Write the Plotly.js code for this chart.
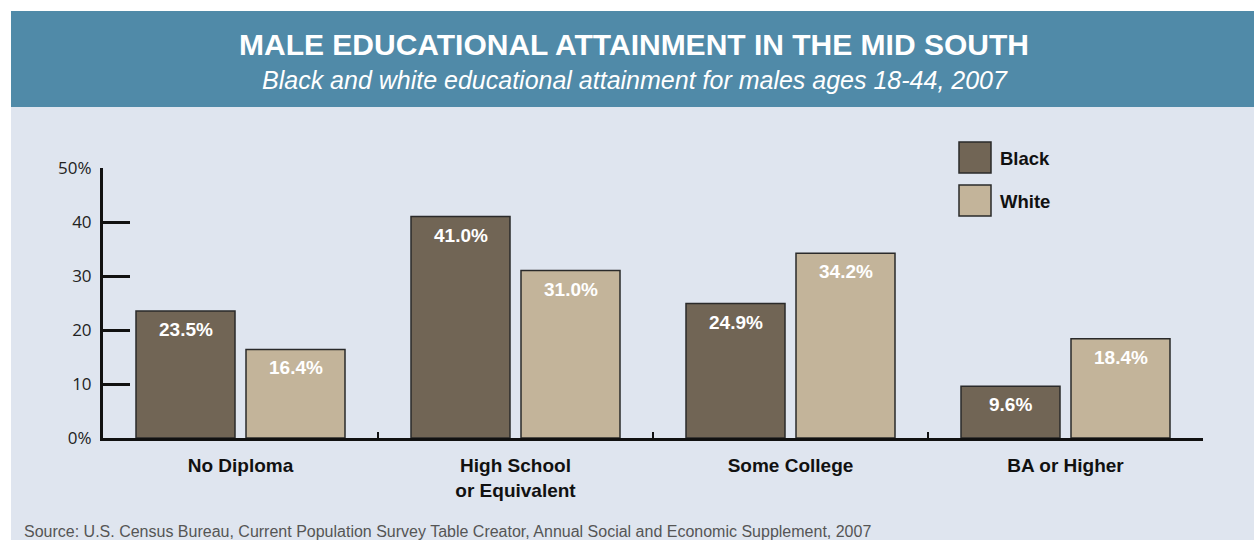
<!DOCTYPE html>
<html>
<head>
<meta charset="utf-8">
<script src="https://cdn.plot.ly/plotly-3.0.1.min.js"></script>
<style>
html,body{margin:0;padding:0;background:#ffffff;}
#chart{width:1254px;height:540px;}
</style>
</head>
<body>
<div id="chart"></div>
<script>
const categories = ["No Diploma", "High School<br>or Equivalent", "Some College", "BA or Higher"];
const blackValues = [23.5, 41.0, 24.9, 9.6];
const whiteValues = [16.4, 31.0, 34.2, 18.4];
const seriesNames = ["Black", "White"];
const yTickVals = [0, 10, 20, 30, 40, 50];
const yTickText = ["0%", "10", "20", "30", "40", "50%"];

const W = 1254, H = 540;
const L = 103, R = 51, T = 168, B = 102;
const PW = W - L - R, PH = H - T - B;
const px = x => (x - L) / PW;
const py = y => (H - B - y) / PH;

const colBlack = "#716555";
const colWhite = "#C3B49A";
const outline = "#2a2a2a";
const sans = "Liberation Sans, Arial, sans-serif";

const traces = [
  {type: "bar", name: seriesNames[0], x: categories, y: blackValues,
   marker: {color: colBlack, line: {color: outline, width: 1.5}},
   hoverinfo: "skip", showlegend: false},
  {type: "bar", name: seriesNames[1], x: categories, y: whiteValues,
   marker: {color: colWhite, line: {color: outline, width: 1.5}},
   hoverinfo: "skip", showlegend: false}
];

const labelFont = {family: sans, size: 19, color: "#ffffff", weight: "bold"};
const annotations = [];
const offsets = [-0.2, 0.2];
[blackValues, whiteValues].forEach((vals, s) => {
  vals.forEach((v, i) => {
    annotations.push({xref: "x", yref: "y", x: i + offsets[s], y: v, yanchor: "top",
      yshift: -6, text: v.toFixed(1) + "%", showarrow: false, font: labelFont});
  });
});

// Title and subtitle
annotations.push({xref: "paper", yref: "paper", x: px(634), y: py(44), xanchor: "center", yanchor: "middle",
  text: "MALE EDUCATIONAL ATTAINMENT IN THE MID SOUTH", showarrow: false,
  font: {family: sans, size: 30, color: "#ffffff", weight: "bold"}});
annotations.push({xref: "paper", yref: "paper", x: px(635), y: py(80), xanchor: "center", yanchor: "middle",
  text: "<i>Black and white educational attainment for males ages 18-44, 2007</i>", showarrow: false,
  font: {family: sans, size: 25, color: "#ffffff"}});
// Legend labels
annotations.push({xref: "paper", yref: "paper", x: px(998), y: py(158), xanchor: "left", yanchor: "middle",
  text: seriesNames[0], showarrow: false,
  font: {family: sans, size: 18.5, color: "#111111", weight: "bold"}});
annotations.push({xref: "paper", yref: "paper", x: px(998), y: py(201), xanchor: "left", yanchor: "middle",
  text: seriesNames[1], showarrow: false,
  font: {family: sans, size: 18.5, color: "#111111", weight: "bold"}});
// Source
annotations.push({xref: "paper", yref: "paper", x: px(22), y: py(531), xanchor: "left", yanchor: "middle",
  text: "Source: U.S. Census Bureau, Current Population Survey Table Creator, Annual Social and Economic Supplement, 2007",
  showarrow: false, font: {family: sans, size: 16, color: "#555555"}});

const shapes = [
  {type: "rect", xref: "paper", yref: "paper", x0: px(11), x1: px(1254), y0: py(540), y1: py(11),
   fillcolor: "#DFE5EF", line: {width: 0}, layer: "below"},
  {type: "rect", xref: "paper", yref: "paper", x0: px(11), x1: px(1254), y0: py(107), y1: py(11),
   fillcolor: "#508AA8", line: {width: 0}, layer: "below"},
  {type: "rect", xref: "paper", yref: "paper", x0: px(959), x1: px(991), y0: py(173), y1: py(142),
   fillcolor: colBlack, line: {color: outline, width: 1.5}},
  {type: "rect", xref: "paper", yref: "paper", x0: px(959), x1: px(991), y0: py(216), y1: py(185),
   fillcolor: colWhite, line: {color: outline, width: 1.5}}
];

const layout = {
  width: W, height: H,
  margin: {l: L, r: R, t: T, b: B, pad: 0},
  paper_bgcolor: "#ffffff",
  plot_bgcolor: "rgba(0,0,0,0)",
  barmode: "group",
  bargap: 0.2,
  bargroupgap: 0.1,
  showlegend: false,
  xaxis: {
    type: "category", range: [-0.5, 3.5], fixedrange: true,
    showline: true, linecolor: "#111111", linewidth: 3,
    ticks: "inside", tickson: "boundaries", ticklen: 6, tickwidth: 2.5, tickcolor: "#111111",
    showgrid: false, zeroline: false,
    tickfont: {family: sans, size: 19, color: "#111111", weight: "bold"},
    ticklabelstandoff: 8
  },
  yaxis: {
    range: [0, 50], fixedrange: true,
    tickvals: yTickVals, ticktext: yTickText,
    showline: true, linecolor: "#111111", linewidth: 3,
    ticks: "inside", ticklen: 27, tickwidth: 3, tickcolor: "#111111",
    showgrid: false, zeroline: false,
    tickfont: {family: "Open Sans, Noto Sans, sans-serif", size: 17, color: "#222222"},
    ticklabelstandoff: 5
  },
  annotations: annotations,
  shapes: shapes
};

Plotly.newPlot("chart", traces, layout, {displayModeBar: false, staticPlot: true});
</script>
</body>
</html>
